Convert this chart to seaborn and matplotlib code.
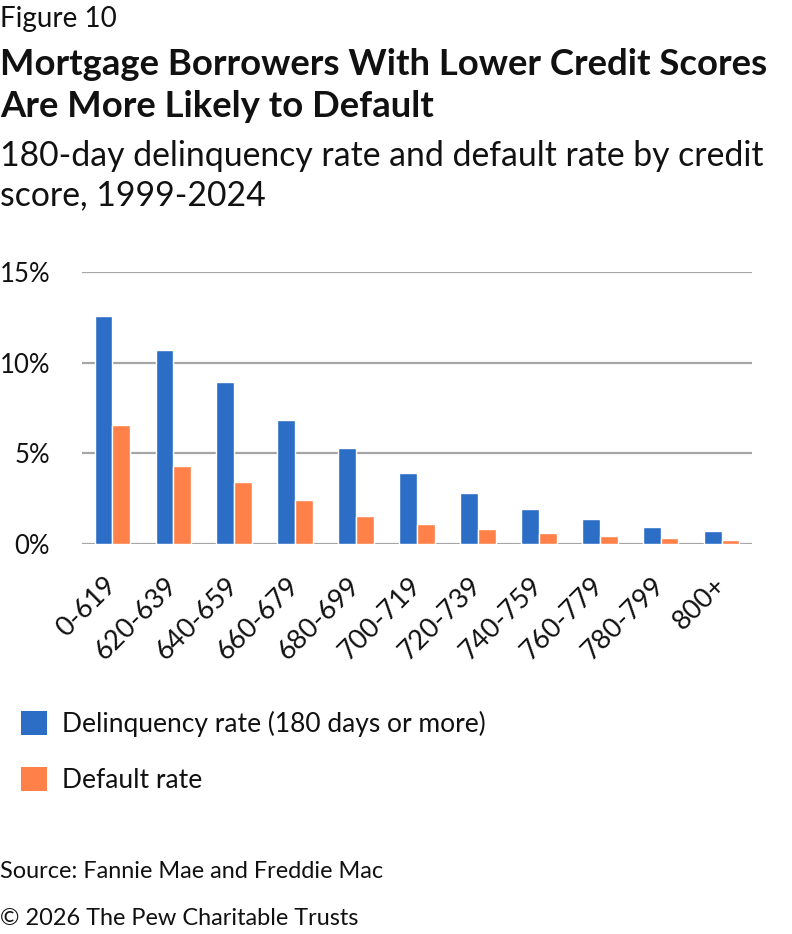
import pandas as pd
import seaborn as sns
import matplotlib.pyplot as plt
from matplotlib.patches import Patch

# Credit score buckets and rates (%)
score_bands = ["0-619", "620-639", "640-659", "660-679", "680-699", "700-719",
               "720-739", "740-759", "760-779", "780-799", "800+"]
delinquency = [12.6, 10.72, 8.96, 6.85, 5.31, 3.92, 2.81, 1.91, 1.36, 0.91, 0.69]
default = [6.54, 4.31, 3.44, 2.45, 1.55, 1.13, 0.80, 0.58, 0.46, 0.35, 0.24]

series_names = ["Delinquency rate (180 days or more)", "Default rate"]
colors = ["#2C6DC5", "#FF8149"]

df = pd.DataFrame({
    "band": score_bands * 2,
    "rate": delinquency + default,
    "series": [series_names[0]] * len(score_bands) + [series_names[1]] * len(score_bands),
})

sns.set_theme(style="white")
plt.rcParams["font.family"] = ["Lato", "DejaVu Sans"]
text_color = "#111111"

fig = plt.figure(figsize=(7.92, 9.34), dpi=100)
ax = fig.add_axes([82 / 792, 1 - 544 / 934, 670 / 792, 272 / 934])

sns.barplot(
    data=df, x="band", y="rate", hue="series",
    palette=colors, width=0.586, gap=0, saturation=1,
    legend=False, ax=ax,
)

ax.set_ylim(0, 15)
ax.set_xlim(-0.5, len(score_bands) - 0.5)
ax.set_yticks([0, 5, 10, 15])
ax.set_yticklabels(["0%", "5%", "10%", "15%"])
ax.yaxis.grid(True, color="#A6A6A6", linewidth=1.6)
ax.set_axisbelow(True)
for side in ["top", "right", "left", "bottom"]:
    ax.spines[side].set_visible(False)
ax.set_xlabel("")
ax.set_ylabel("")
ax.tick_params(axis="y", length=0, pad=23, labelsize=18.5, labelcolor=text_color)
ax.tick_params(axis="x", length=0, pad=27, labelsize=19.5, labelcolor=text_color)
for lbl in ax.get_xticklabels():
    lbl.set_rotation(45)
    lbl.set_ha("right")
    lbl.set_va("center")
    lbl.set_rotation_mode("anchor")

# Header
fig.text(0.0, 1 - 27 / 934, "Figure 10", fontsize=20, color=text_color, va="baseline")
fig.text(0.0, 1 - 75 / 934, "Mortgage Borrowers With Lower Credit Scores",
         fontsize=26.3, fontweight="bold", color=text_color, va="baseline")
fig.text(0.0, 1 - 117 / 934, "Are More Likely to Default",
         fontsize=26.3, fontweight="bold", color=text_color, va="baseline")
fig.text(0.0, 1 - 166 / 934, "180-day delinquency rate and default rate by credit",
         fontsize=24.3, color=text_color, va="baseline")
fig.text(0.0, 1 - 205 / 934, "score, 1999-2024",
         fontsize=24.3, color=text_color, va="baseline")

# Legend
handles = [Patch(facecolor=c, edgecolor="none") for c in colors]
fig.legend(
    handles, series_names, loc="upper left",
    bbox_to_anchor=(21 / 792, 1 - 711 / 934), frameon=False,
    fontsize=19, handlelength=1.0, handleheight=1.05,
    handletextpad=0.55, labelspacing=1.12, borderpad=0, borderaxespad=0,
    labelcolor=text_color,
)

# Footer
fig.text(0.0, 1 - 878 / 934, "Source: Fannie Mae and Freddie Mac",
         fontsize=16.9, color=text_color, va="baseline")
fig.text(0.0, 1 - 925 / 934, "\u00a9 2026 The Pew Charitable Trusts",
         fontsize=16.9, color=text_color, va="baseline")

fig.savefig("out.png", dpi=100)
